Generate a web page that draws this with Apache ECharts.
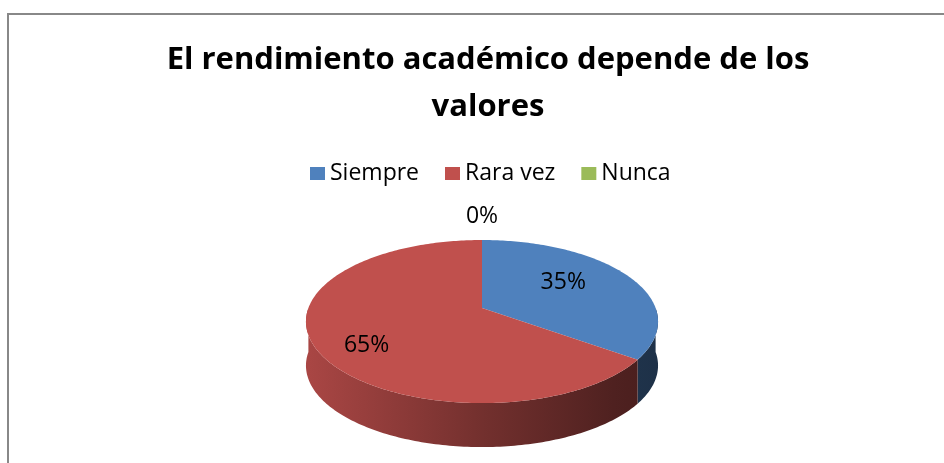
<!DOCTYPE html>
<html>
<head>
<meta charset="utf-8">
<script src="https://cdn.jsdelivr.net/npm/echarts@6/dist/echarts.min.js"></script>
<style>
  html, body { margin: 0; padding: 0; background: #fff; }
  #chart { width: 944px; height: 463px; }
</style>
</head>
<body>
<div id="chart"></div>
<script>
// datos del grafico
const categorias = ["Siempre", "Rara vez", "Nunca"];
const valores = [35, 65, 0];
const colores = ["#4F81BD", "#C0504D", "#9BBB59"];

const total = valores.reduce((a, b) => a + b, 0);

// geometria de la torta 3D (perspectiva simple)
const CX = 482, CY = 308, A = 173.6, B = 79.3, K = 0.166, DEPTH = 44;
const FONT = '"Open Sans", "Noto Sans", sans-serif';

function proj(u, v) {
  const s = 1 - K * v;
  return [CX + A * u / s, CY + B * v / s];
}
function onEllipse(deg, r) {
  const t = deg * Math.PI / 180;
  return proj(r * Math.sin(t), -r * Math.cos(t));
}
function shade(hex, f) {
  const n = parseInt(hex.slice(1), 16);
  const c = [(n >> 16) & 255, (n >> 8) & 255, n & 255].map(x => Math.round(x * f));
  return "rgb(" + c.join(",") + ")";
}

function renderSlice(params, api) {
  const i = params.seriesIndex;
  const value = api.value(0);
  let before = 0;
  for (let j = 0; j < i; j++) before += valores[j];
  const a = before / total * 360;
  const b = (before + value) / total * 360;
  const color = colores[i];
  const children = [];

  if (value > 0) {
    // cara superior
    const top = [proj(0, 0)];
    for (let d = a; d < b; d += 1) top.push(onEllipse(d, 1));
    top.push(onEllipse(b, 1));
    children.push({ type: "polygon", z2: 10, shape: { points: top }, style: { fill: color } });

    // lateral visible (mitad delantera)
    const s0 = Math.max(a, 90), s1 = Math.min(b, 270);
    if (s1 > s0) {
      const up = [];
      for (let d = s0; d < s1; d += 1) up.push(onEllipse(d, 1));
      up.push(onEllipse(s1, 1));
      const down = up.map(p => [p[0], p[1] + DEPTH]).reverse();
      children.push({
        type: "polygon", z2: 1,
        shape: { points: up.concat(down) },
        style: {
          fill: new echarts.graphic.LinearGradient(CX - A, 0, CX + A, 0, [
            { offset: 0, color: shade(color, 0.88) },
            { offset: 0.5, color: shade(color, 0.6) },
            { offset: 0.88, color: shade(color, 0.41) },
            { offset: 1, color: shade(color, 0.38) }
          ], true)
        }
      });
    }
  }

  // etiqueta de porcentaje
  const mid = (a + b) / 2;
  let pos;
  if (value > 0) {
    pos = onEllipse(mid, 0.66);
    pos[0] += (mid < 180 ? -16 : -8);
    pos[1] += (mid < 180 ? -3 : 12);
  } else {
    const t = mid * Math.PI / 180;
    const p = onEllipse(mid, 1);
    pos = [p[0] + 24 * Math.sin(t), p[1] - 24 * Math.cos(t)];
  }
  children.push({
    type: "text", z2: 20, x: pos[0], y: pos[1],
    style: {
      text: Math.round(value / total * 100) + "%",
      fill: "#000", font: "23px " + FONT,
      align: "center", verticalAlign: "middle",
      textAlign: "center", textVerticalAlign: "middle"
    }
  });
  return { type: "group", children: children };
}

const chart = echarts.init(document.getElementById("chart"));
chart.setOption({
  animation: false,
  title: {
    text: "El rendimiento académico depende de los\nvalores",
    left: 483,
    textAlign: "center",
    top: 32,
    textStyle: { fontFamily: FONT, fontWeight: "bold", fontSize: 31, lineHeight: 47, color: "#000" }
  },
  legend: {
    top: 157,
    left: 305,
    icon: "rect",
    itemWidth: 15,
    itemHeight: 13,
    itemGap: 26,
    data: categorias,
    textStyle: { fontFamily: FONT, fontSize: 23, color: "#000" }
  },
  graphic: [{
    type: "rect", silent: true,
    shape: { x: 8, y: 14, width: 1200, height: 1000 },
    style: { fill: "none", stroke: "#888", lineWidth: 2 }
  }],
  series: categorias.map((name, i) => ({
    type: "custom",
    name: name,
    coordinateSystem: "none",
    itemStyle: { color: colores[i] },
    renderItem: renderSlice,
    data: [[valores[i]]]
  }))
});
</script>
</body>
</html>
